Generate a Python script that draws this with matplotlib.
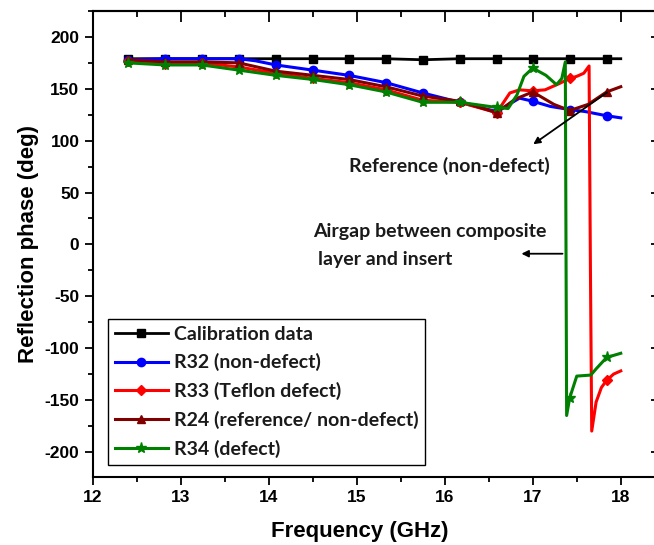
import matplotlib
matplotlib.use('Agg')
import matplotlib.pyplot as plt
from matplotlib.ticker import MultipleLocator
import numpy as np

plt.rcParams['font.family'] = 'Liberation Sans'
plt.rcParams['font.weight'] = 'bold'
plt.rcParams['axes.labelweight'] = 'bold'
plt.rcParams['axes.unicode_minus'] = False

# marker positions (GHz) shared by all traces
mark_freq = [12.40, 12.82, 13.24, 13.66, 14.08, 14.50, 14.91, 15.33, 15.75,
             16.17, 16.59, 17.00, 17.42, 17.84]

cal_f = mark_freq + [18.00]
cal_y = [179, 179, 179, 179, 179, 179, 179, 179, 178, 179, 179, 179, 179, 179, 179]

r32_f = [12.40, 12.82, 13.24, 13.66, 13.85, 14.08, 14.50, 14.91, 15.33, 15.75,
         16.17, 16.59, 16.75, 16.85, 17.00, 17.20, 17.42, 17.60, 17.84, 18.00]
r32_y = [178, 179, 179, 179, 177, 173, 168, 163, 156, 146,
         137, 128, 136, 141, 138, 133, 130, 128, 124, 122]

r33_f = [12.40, 12.82, 13.24, 13.66, 14.08, 14.50, 14.91, 15.33, 15.75, 16.17,
         16.59, 16.74, 16.85, 17.00, 17.14, 17.30, 17.42, 17.50, 17.58, 17.64,
         17.655, 17.67, 17.72, 17.78, 17.84, 17.92, 18.00]
r33_y = [177, 174, 175, 171, 165, 160, 156, 149, 139, 137,
         127, 146, 149, 148, 149, 155, 160, 162, 165, 172,
         -20, -180, -152, -138, -131, -125, -122]

r24_f = [12.40, 12.82, 13.24, 13.66, 14.08, 14.50, 14.91, 15.33, 15.75, 16.17,
         16.59, 16.80, 17.00, 17.24, 17.42, 17.63, 17.84, 18.00]
r24_y = [178, 176, 176, 175, 167, 163, 159, 152, 143, 138,
         127, 140, 147, 135, 129, 135, 147, 152]

r34_f = [12.40, 12.82, 13.24, 13.66, 14.08, 14.50, 14.91, 15.33, 15.75, 16.17,
         16.59, 16.72, 16.82, 16.90, 17.00, 17.15, 17.27, 17.33, 17.37, 17.385,
         17.42, 17.50, 17.66, 17.72, 17.84, 18.00]
r34_y = [175, 173, 173, 168, 163, 159, 154, 147, 137, 137,
         132, 131, 144, 162, 170, 163, 154, 160, 176, -165,
         -148, -127, -126, -120, -109, -105]

series = [
    (cal_f, cal_y, 'Calibration data', 'black', 's', 2.0),
    (r32_f, r32_y, 'R32 (non-defect)', '#0000ff', 'o', 2.2),
    (r33_f, r33_y, 'R33 (Teflon defect)', '#ff0000', 'D', 2.2),
    (r24_f, r24_y, 'R24 (reference/ non-defect)', '#800000', '^', 2.2),
    (r34_f, r34_y, 'R34 (defect)', '#008000', '*', 2.2),
]

fig = plt.figure(figsize=(6.54, 5.45), dpi=100)
ax = fig.add_axes([0.1417, 0.1253, 0.864, 0.8545])

for f, y, lab, col, mk, lw in series:
    f = np.array(f)
    every = np.isin(np.round(f, 2), np.round(mark_freq, 2))
    ms = 6 if mk != '*' else 8
    if mk == 'D':
        ms = 5
    ax.plot(f, y, color=col, lw=lw, marker=mk, ms=ms, markevery=list(every),
            label=lab)

ax.set_xlim(12, 18.42)
ax.set_ylim(-224, 225)
ax.xaxis.set_major_locator(MultipleLocator(1))
ax.xaxis.set_minor_locator(MultipleLocator(0.5))
ax.yaxis.set_major_locator(MultipleLocator(50))
ax.yaxis.set_minor_locator(MultipleLocator(25))
ax.tick_params(which='major', direction='out', length=6, width=1.3, labelsize=12.5)
ax.tick_params(which='minor', direction='out', length=3.5, width=1.3)
for s in ax.spines.values():
    s.set_linewidth(1.5)

# mirrored ticks pointing inward on top and right
top = ax.secondary_xaxis('top')
top.xaxis.set_major_locator(MultipleLocator(1))
top.xaxis.set_minor_locator(MultipleLocator(0.5))
top.tick_params(which='major', direction='in', length=8, width=1.3, labeltop=False)
top.tick_params(which='minor', direction='in', length=4, width=1.3)
top.spines['top'].set_linewidth(1.5)
right = ax.secondary_yaxis('right')
right.yaxis.set_major_locator(MultipleLocator(50))
right.yaxis.set_minor_locator(MultipleLocator(25))
right.tick_params(which='major', direction='in', length=5, width=1.3, labelright=False)
right.tick_params(which='minor', direction='in', length=3, width=1.3)

ax.set_xlabel('Frequency (GHz)', fontsize=16, fontweight='bold')
ax.set_ylabel('Reflection phase (deg)', fontsize=16, fontweight='bold')
ax.xaxis.set_label_coords(0.472, -0.095)
ax.yaxis.set_label_coords(-0.095, 0.5)

fig.canvas.draw()
for t in ax.get_xticklabels() + ax.get_yticklabels():
    t.set_fontweight('bold')

note = dict(fontfamily='Lato', fontweight='bold', fontsize=14, color='#1a1a1a')
ax.text(14.91, 76, 'Reference (non-defect)', va='center', ha='left', **note)
ax.annotate('', xy=(16.98, 95), xytext=(17.87, 148),
            arrowprops=dict(arrowstyle='-|>', color='black', lw=1.3, mutation_scale=10))
ax.text(14.50, 12, 'Airgap between composite', va='center', ha='left', **note)
ax.text(14.56, -15, 'layer and insert', va='center', ha='left', **note)
ax.annotate('', xy=(16.84, -9), xytext=(17.37, -9),
            arrowprops=dict(arrowstyle='-|>', color='black', lw=1.3, mutation_scale=10))

leg = ax.legend(loc='lower left', bbox_to_anchor=(0.027, 0.026), borderaxespad=0,
                prop=dict(family='Lato', weight='bold', size=14),
                handlelength=2.75, handletextpad=0.3, labelspacing=0.55,
                fancybox=False, framealpha=1, edgecolor='black', borderpad=0.35)
leg.get_frame().set_linewidth(1.0)
for t in leg.get_texts():
    t.set_color('#1a1a1a')

fig.savefig('out.png', dpi=100)
